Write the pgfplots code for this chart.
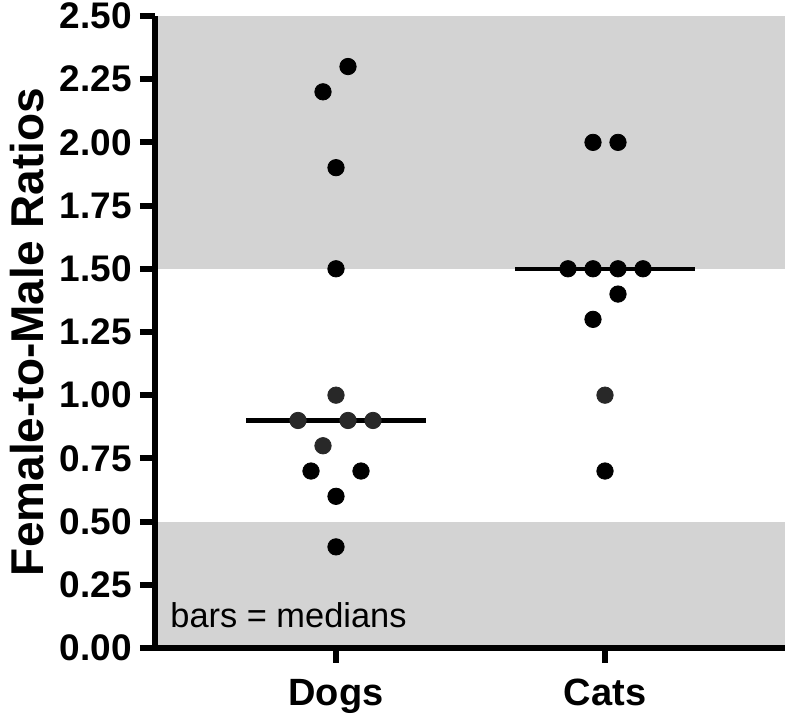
\documentclass[border=0pt]{standalone}
\usepackage{pgfplots}
\pgfplotsset{compat=1.18}
\usepackage{fontspec}
\setmainfont{Liberation Sans}
\definecolor{band}{RGB}{211,211,211}
\definecolor{dot}{RGB}{0,0,0}
\definecolor{dotg}{RGB}{40,40,40}
\begin{document}
\begin{tikzpicture}
\begin{axis}[
  name=ax,
  scale only axis,
  width=315pt, height=316pt,
  xmin=155, xmax=785, ymin=0, ymax=2.5,
  axis x line=bottom, axis y line=left,
  axis line style={-, line width=3pt},
  axis on top,
  clip=false,
  xtick={336,605},
  xticklabels={Dogs,Cats},
  ytick={0,0.25,0.5,0.75,1,1.25,1.5,1.75,2,2.25,2.5},
  tick align=outside,
  major tick length=7.5pt,
  tick style={line width=3pt, black},
  /pgf/number format/.cd, fixed, fixed zerofill, precision=2, assume math mode=true,
  /pgfplots/.cd,
  yticklabel style={font=\fontsize{18.5}{20}\selectfont\bfseries, inner sep=0pt, anchor=east, xshift=-4pt},
  xticklabel style={font=\fontsize{19}{21}\selectfont\bfseries, inner sep=0pt, anchor=north, yshift=-8pt},
  ylabel={Female-to-Male Ratios},
  ylabel style={font=\fontsize{23}{25}\selectfont\bfseries, at={(axis description cs:-0.203,0.5)}, anchor=center, rotate=0},
]
\fill[band] (axis cs:155,0) rectangle (axis cs:785,0.5);
\fill[band] (axis cs:155,1.5) rectangle (axis cs:785,2.5);
\node[anchor=base west, font=\fontsize{17.2}{19}\selectfont, inner sep=0pt] at (axis cs:170,0.08) {bars = medians};
% median lines
\addplot[black, line width=2.2pt] coordinates {(246,0.9) (426,0.9)};
\addplot[black, line width=2.2pt] coordinates {(515,1.5) (695,1.5)};
% dogs (black)
\addplot[only marks, mark=*, mark size=4.1pt, dot] coordinates {
 (348,2.3) (323,2.2) (336,1.9) (336,1.5) (311,0.7) (361,0.7) (336,0.6) (336,0.4)};
% dogs (dark grey)
\addplot[only marks, mark=*, mark size=4.1pt, dotg] coordinates {
 (336,1.0) (298,0.9) (348,0.9) (373,0.9) (323,0.8)};
% cats (black)
\addplot[only marks, mark=*, mark size=4.1pt, dot] coordinates {
 (593,2.0) (618,2.0) (568,1.5) (593,1.5) (618,1.5) (643,1.5) (618,1.4) (593,1.3) (605,0.7)};
% cats (dark grey)
\addplot[only marks, mark=*, mark size=4.1pt, dotg] coordinates {(605,1.0)};
\end{axis}
\pgfresetboundingbox
\path[use as bounding box] ([xshift=-77.5pt,yshift=-33pt]ax.south west) rectangle ([xshift=1pt,yshift=8pt]ax.north east);
\end{tikzpicture}
\end{document}
